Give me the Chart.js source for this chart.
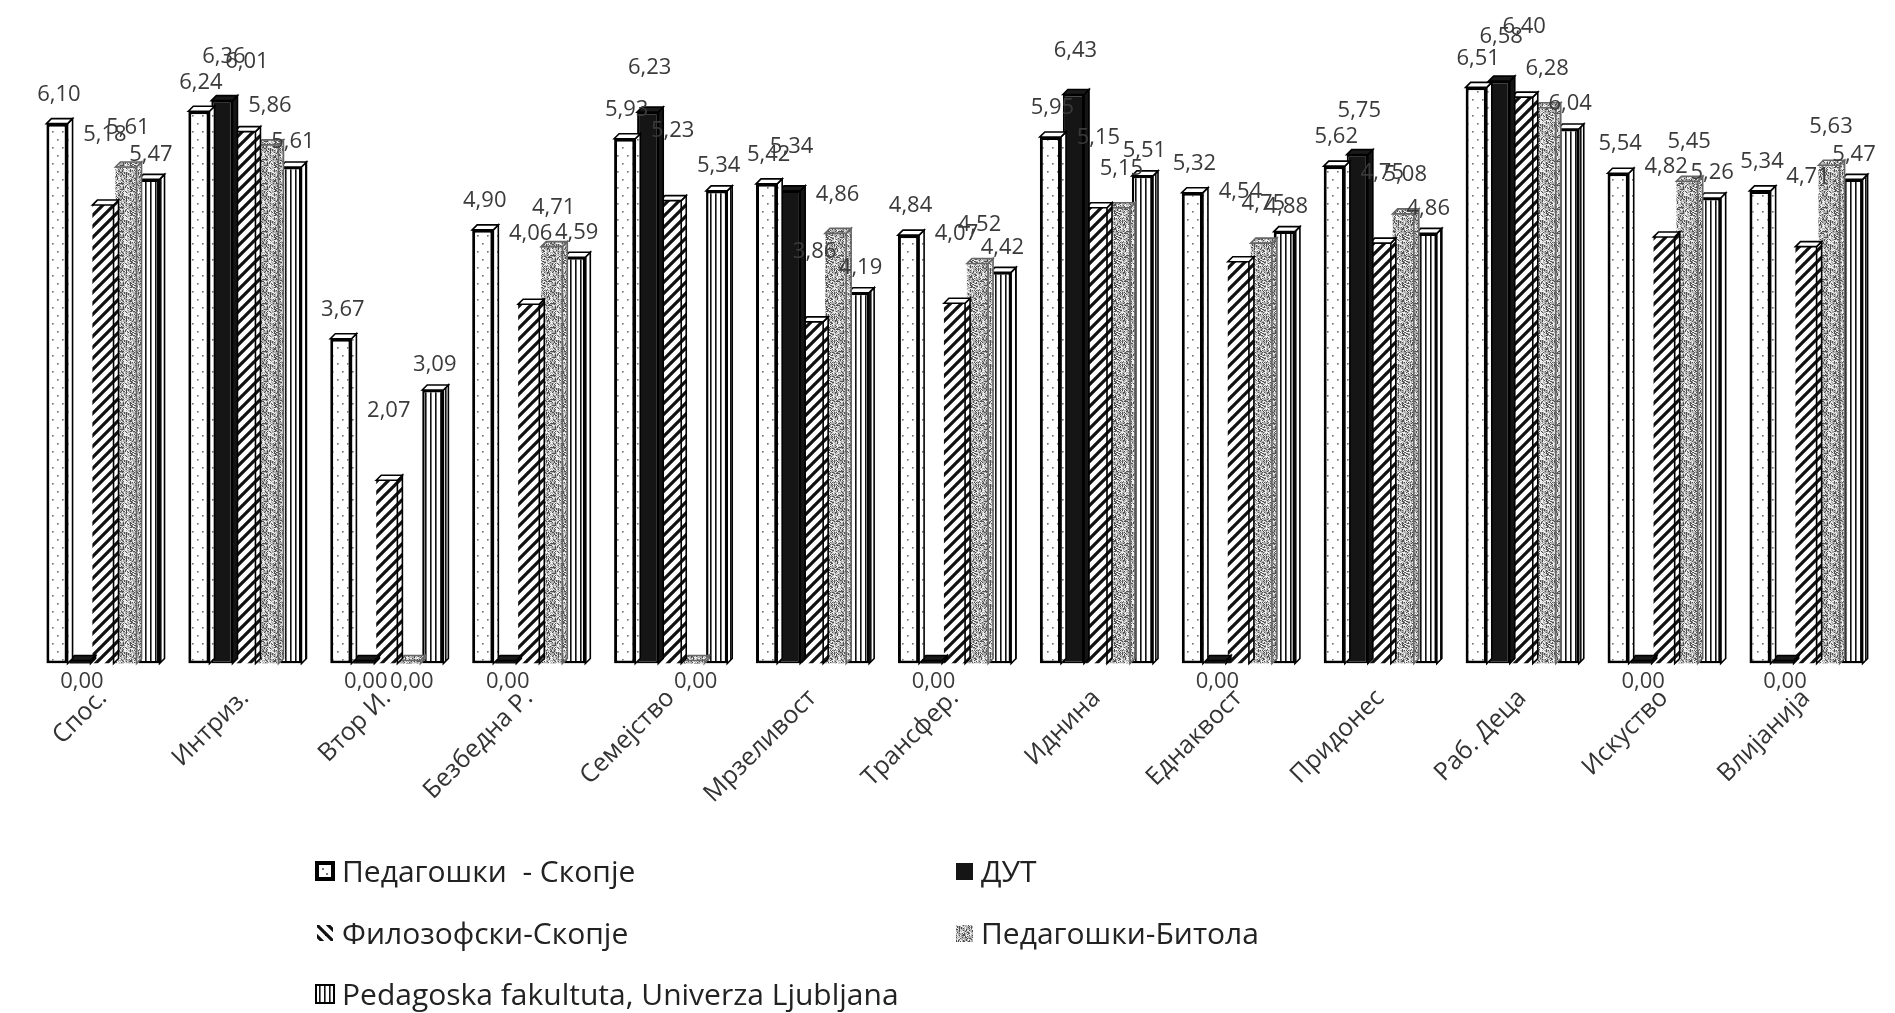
<!DOCTYPE html>
<html>
<head>
<meta charset="utf-8">
<script src="https://cdn.jsdelivr.net/npm/chart.js@4.4.1/dist/chart.umd.min.js"></script>
<style>
  html, body { margin: 0; padding: 0; background: #ffffff; }
  #wrap { position: relative; width: 1895px; height: 1013px; overflow: hidden; background: #fff; }
  #chart { position: absolute; left: 0; top: 0; }
  .lg { position: absolute; font-family: "Open Sans", sans-serif; font-size: 30px; color: #222; white-space: pre; line-height: 36px; }
  .lg canvas { position: absolute; left: 0; top: 7px; }
  .lg span { position: absolute; left: 28px; top: 0; }
</style>
</head>
<body>
<div id="wrap">
  <canvas id="chart" width="1895" height="1013"></canvas>
</div>
<script>
// ---------- DATA ----------
const categories = ['Спос.', 'Интриз.', 'Втор И.', 'Безбедна Р.', 'Семејство', 'Мрзеливост', 'Трансфер.', 'Иднина', 'Еднаквост', 'Придонес', 'Раб. Деца', 'Искуство', 'Влијанија'];
const seriesNames = ['Педагошки  - Скопје', 'ДУТ', 'Филозофски-Скопје', 'Педагошки-Битола', 'Pedagoska fakultuta, Univerza Ljubljana'];
const pedagoskiSkopje = [6.10, 6.24, 3.67, 4.90, 5.93, 5.42, 4.84, 5.95, 5.32, 5.62, 6.51, 5.54, 5.34];
const dut             = [0.00, 6.36, 0.00, 0.00, 6.23, 5.34, 0.00, 6.43, 0.00, 5.75, 6.58, 0.00, 0.00];
const filozofski      = [5.18, 6.01, 2.07, 4.06, 5.23, 3.86, 4.07, 5.15, 4.54, 4.75, 6.40, 4.82, 4.71];
const bitola          = [5.61, 5.86, 0.00, 4.71, 0.00, 4.86, 4.52, 5.15, 4.75, 5.08, 6.28, 5.45, 5.63];
const ljubljana       = [5.47, 5.61, 3.09, 4.59, 5.34, 4.19, 4.42, 5.51, 4.88, 4.86, 6.04, 5.26, 5.47];
const seriesValues = [pedagoskiSkopje, dut, filozofski, bitola, ljubljana];

// ---------- PATTERNS ----------
function makeCanvas(w, h) { const c = document.createElement('canvas'); c.width = w; c.height = h; return c; }
function hash(i, j) { let h = (i * 374761393 + j * 668265263) | 0; h = (h ^ (h >>> 13)) * 1274126177 | 0; return ((h ^ (h >>> 16)) >>> 0) % 100; }
function patDots() {
  const c = makeCanvas(10, 16), g = c.getContext('2d');
  g.fillStyle = '#fff'; g.fillRect(0, 0, 10, 16);
  g.fillStyle = '#707070';
  g.fillRect(2, 3, 1.6, 1.6); g.fillRect(7, 11, 1.6, 1.6);
  return c;
}
function patDiag(back) {
  const s = 11, c = makeCanvas(s, s), g = c.getContext('2d');
  g.fillStyle = '#fff'; g.fillRect(0, 0, s, s);
  g.strokeStyle = '#111'; g.lineWidth = 3.2; g.lineCap = 'square';
  for (const k of [-s, 0, s]) {
    g.beginPath();
    if (back) { g.moveTo(k, 0); g.lineTo(k + s, s); } else { g.moveTo(k, s); g.lineTo(k + s, 0); }
    g.stroke();
  }
  return c;
}
function patStipple() {
  const s = 24, c = makeCanvas(s, s), g = c.getContext('2d');
  g.fillStyle = '#b0b0b0'; g.fillRect(0, 0, s, s);
  for (let i = 0; i < s; i++) for (let j = 0; j < s; j++) {
    const h = hash(i, j);
    if (h < 28) { g.fillStyle = '#505050'; g.fillRect(i, j, 1, 1); }
    else if (h < 55) { g.fillStyle = '#f0f0f0'; g.fillRect(i, j, 1, 1); }
  }
  return c;
}
function patVLines() {
  const c = makeCanvas(5, 4), g = c.getContext('2d');
  g.fillStyle = '#fff'; g.fillRect(0, 0, 5, 4);
  g.fillStyle = '#111'; g.fillRect(0, 0, 1.6, 4);
  return c;
}
const ctx0 = document.getElementById('chart').getContext('2d');
const fills = [
  ctx0.createPattern(patDots(), 'repeat'),
  '#151515',
  ctx0.createPattern(patDiag(false), 'repeat'),
  ctx0.createPattern(patStipple(), 'repeat'),
  ctx0.createPattern(patVLines(), 'repeat')
];
const borders = ['#000', '#000', 'rgba(0,0,0,0)', 'rgba(0,0,0,0)', '#000'];
const borderWidths = [3, 2, 0, 0, 2.5];
const topFills = ['#ffffff', '#1a1a1a', '#ffffff', fills[3], '#ffffff'];
const labelLift = [29, 44, 70, 39, 25];

// ---------- 3D faces plugin ----------
const DX = 5, DY = -5;
const faces3d = {
  id: 'faces3d',
  afterDatasetDraw(chart, args) {
    const i = args.index, meta = args.meta, g = chart.ctx;
    g.save();
    meta.data.forEach(el => {
      const p = el.getProps(['x', 'y', 'base', 'width'], true);
      const l = p.x - p.width / 2, r = p.x + p.width / 2, t = Math.min(p.y, p.base), b = Math.max(p.y, p.base);
      const zero = Math.abs(b - t) < 1;
      const tt = zero ? t - 3 : t;
      g.beginPath();
      g.moveTo(r, tt); g.lineTo(r + DX, tt + DY); g.lineTo(r + DX, b + DY); g.lineTo(r, b); g.closePath();
      g.fillStyle = fills[i]; g.fill();
      g.lineWidth = 1.6; g.strokeStyle = i === 3 ? '#666' : '#000'; g.stroke();
      if (zero) {
        g.fillStyle = i === 3 ? fills[3] : '#111';
        g.fillRect(l, tt, r - l, b - tt);
      }
      g.beginPath();
      g.moveTo(l, tt); g.lineTo(l + DX, tt + DY); g.lineTo(r + DX, tt + DY); g.lineTo(r, tt); g.closePath();
      g.fillStyle = topFills[i]; g.fill();
      g.lineWidth = 1.6; g.stroke();
    });
    g.restore();
  }
};

// ---------- value labels plugin ----------
const valueLabels = {
  id: 'valueLabels',
  afterDatasetsDraw(chart) {
    const g = chart.ctx;
    g.save();
    g.font = '22px "Open Sans", sans-serif';
    g.fillStyle = '#3a3a3a';
    g.textAlign = 'center';
    g.textBaseline = 'middle';
    chart.data.datasets.forEach((ds, i) => {
      const meta = chart.getDatasetMeta(i);
      meta.data.forEach((el, j) => {
        const v = ds.data[j];
        const p = el.getProps(['x', 'y', 'base'], true);
        const txt = v.toFixed(2).replace('.', ',');
        const y = v === 0 ? p.base + 18 : p.y - labelLift[i];
        g.fillText(txt, p.x + 2, y);
      });
    });
    g.restore();
  }
};

new Chart(ctx0, {
  type: 'bar',
  data: {
    labels: categories,
    datasets: seriesNames.map((name, i) => ({
      label: name,
      data: seriesValues[i],
      backgroundColor: fills[i],
      borderColor: borders[i],
      borderWidth: borderWidths[i],
      borderSkipped: false,
      barPercentage: 0.92,
      categoryPercentage: 0.81
    }))
  },
  options: {
    responsive: false,
    animation: false,
    devicePixelRatio: 1,
    layout: { padding: { left: 32, right: 18, top: 44, bottom: 199.5 } },
    plugins: { legend: { display: false }, tooltip: { enabled: false } },
    scales: {
      y: { display: false, min: 0, max: 7 },
      x: {
        grid: { display: false, drawTicks: false },
        border: { display: false },
        afterFit(axis) { axis.height = 150; },
        ticks: {
          autoSkip: false, minRotation: 45, maxRotation: 45, padding: 20,
          color: '#333',
          font: { family: '"Open Sans", sans-serif', size: 25 }
        }
      }
    }
  },
  plugins: [faces3d, valueLabels]
});

// ---------- HTML legend ----------
function swatch(i) {
  const c = makeCanvas(22, 22), g = c.getContext('2d');
  if (i === 0) {
    g.fillStyle = '#000'; g.fillRect(1, 1, 20, 20);
    g.fillStyle = '#fff'; g.fillRect(5, 5, 12, 12);
    g.fillStyle = '#777'; g.fillRect(8, 8, 2, 2); g.fillRect(12, 13, 2, 2);
  } else if (i === 1) {
    g.fillStyle = '#151515'; g.fillRect(3, 3, 17, 17);
  } else if (i === 2) {
    g.fillStyle = g.createPattern(patDiag(true), 'repeat'); g.fillRect(3, 3, 16, 16);
  } else if (i === 3) {
    g.fillStyle = g.createPattern(patStipple(), 'repeat'); g.fillRect(3, 3, 17, 17);
  } else {
    g.fillStyle = g.createPattern(patVLines(), 'repeat'); g.fillRect(2, 2, 18, 18);
    g.strokeStyle = '#000'; g.lineWidth = 2; g.strokeRect(2, 2, 18, 18);
  }
  return c;
}
const legendSpots = [[314, 853], [953, 853], [314, 915], [953, 915], [314, 976]];
const wrap = document.getElementById('wrap');
seriesNames.forEach((name, i) => {
  const d = document.createElement('div');
  d.className = 'lg';
  d.style.left = legendSpots[i][0] + 'px';
  d.style.top = legendSpots[i][1] + 'px';
  d.appendChild(swatch(i));
  const s = document.createElement('span');
  s.textContent = name;
  d.appendChild(s);
  wrap.appendChild(d);
});
</script>
</body>
</html>
